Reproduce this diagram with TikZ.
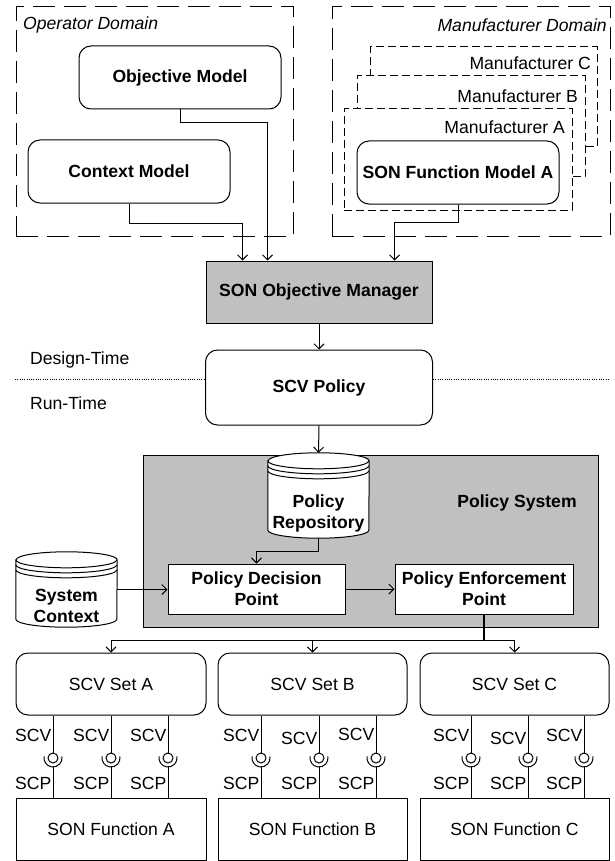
\documentclass[tikz,border=0pt]{standalone}
\usepackage{fontspec}
\setmainfont{Liberation Sans}
\usetikzlibrary{arrows.meta,calc}
\definecolor{sgray}{HTML}{C0C0C0}
\newcommand\drawcylshape[1]{%
  \filldraw[line width=1pt, fill=white] ($(#1.north west)+(0,8)$) -- ($(#1.south west)+(0,-8)$)
    arc[start angle=180,end angle=0,x radius=50.5,y radius=8]
    -- ($(#1.north east)+(0,8)$)
    arc[start angle=0,end angle=-180,x radius=50.5,y radius=8] -- cycle;
  \draw[line width=1pt] ($(#1.north west)+(0,8)$) arc[start angle=180,end angle=0,x radius=50.5,y radius=8];
  \draw[line width=1pt] ($(#1.north west)+(0,13)$) arc[start angle=180,end angle=0,x radius=50.5,y radius=8];
  \draw[line width=1pt] ($(#1.north west)+(0,18)$) arc[start angle=180,end angle=0,x radius=50.5,y radius=8];
}
\begin{document}
\begin{tikzpicture}[x=1pt,y=-1pt,
  every node/.style={font=\fontsize{17.6}{21}\selectfont, inner sep=0pt},
  bf/.style={font=\fontsize{17.6}{21}\selectfont\bfseries},
  itl/.style={font=\fontsize{17.6}{21}\selectfont\itshape},
  line/.style={line width=1pt},
  arr/.style={line width=1pt, -{Straight Barb[length=5pt,width=10pt]}},
  rbox/.style={draw, line width=1pt, rounded corners=12pt, fill=white, align=center},
  sbox/.style={draw, line width=1pt, fill=white, align=center},
  gbox/.style={draw, line width=1pt, fill=sgray, align=center},
  dom/.style={draw, line width=1pt, dash pattern=on 22pt off 9pt},
  man/.style={draw, line width=1pt, fill=white, dash pattern=on 8pt off 4pt},
  ph/.style={minimum width=101pt, draw=none},
]
\useasboundingbox (0,0) rectangle (614,861);

% domains
\node[dom, minimum width=277pt, minimum height=229pt] (opdom) at (154.5,121.5) {};
\node[itl, anchor=west] (oplbl) at (23,25) {Operator Domain};
\node[dom, minimum width=278pt, minimum height=229pt] (mandom) at (471,121.5) {};
\node[itl, anchor=east] (mdlbl) at (607,25) {Manufacturer Domain};

\node[man, minimum width=227pt, minimum height=100pt] (manC) at (483.5,97) {};
\node[anchor=east] (lblC) at (591,63) {Manufacturer C};
\node[man, minimum width=228pt, minimum height=101pt] (manB) at (471,126.5) {};
\node[anchor=east] (lblB) at (578,96) {Manufacturer B};
\node[man, minimum width=228pt, minimum height=101pt] (manA) at (458,159.5) {};
\node[anchor=east] (lblA) at (565,127) {Manufacturer A};

\node[rbox, bf, minimum width=202pt, minimum height=63pt] (sfm) at (458,172.5) {SON Function Model A};
\node[rbox, bf, minimum width=202pt, minimum height=63pt] (obj) at (180,77.5) {Objective Model};
\node[rbox, bf, minimum width=202pt, minimum height=63pt] (ctx) at (129,171.5) {Context Model};

% objective manager
\node[gbox, bf, minimum width=226pt, minimum height=62pt] (som) at (319,292) {SON Objective Manager};
\draw[arr] (ctx.south) -- ++(0,20) -| ([xshift=37pt]som.north west);
\draw[arr] (obj.south) -- ++(0,13) -| ([xshift=62pt]som.north west);
\draw[arr] (sfm.south) -- ++(0,18) -| ([xshift=189pt]som.north west);

% SCV policy and time line
\node[rbox, bf, minimum width=227pt, minimum height=75pt] (scvpol) at (319,387.5) {SCV Policy};
\draw[arr] (som.south) -- (som.south |- scvpol.north);
\coordinate (dl) at (15,379);
\coordinate (dr) at (610,379);
\draw[line width=0.9pt, dash pattern=on 1pt off 1.3pt] (dl) -- (dl -| scvpol.west);
\draw[line width=0.9pt, dash pattern=on 1pt off 1.3pt] (scvpol.east |- dr) -- (dr);
\node[anchor=west] (dt) at (30,360) {Design-Time};
\node[anchor=west] (rt) at (30,403) {Run-Time};

% policy system
\node[gbox, minimum width=455pt, minimum height=172pt] (psys) at (370.5,541) {};
\node[bf] (pslbl) at (517,503) {Policy System};
\node[ph, minimum height=85pt] (repo) at (318.5,495.5) {};
\drawcylshape{repo}
\node[bf, align=center] (repolbl) at (318.5,513) {Policy\\Repository};
\draw[arr] (scvpol.south) -- (repo.north);

\node[sbox, bf, minimum width=177pt, minimum height=50pt] (pdp) at (256.5,589) {Policy Decision\\Point};
\node[sbox, bf, minimum width=178pt, minimum height=50pt] (pep) at (484,589) {Policy Enforcement\\Point};
\draw[arr] (repo.south) -- ++(0,13) -| (pdp.north);
\draw[arr] (pdp.east) -- (pep.west);

\node[ph, minimum height=75pt] (sysc) at (66.5,589.5) {};
\drawcylshape{sysc}
\node[bf, align=center] (sysclbl) at (66.5,606) {System\\Context};
\draw[arr] (sysc.east) -- (sysc.east -| pdp.west);

% SCV sets and functions
\node[rbox, minimum width=190pt, minimum height=62pt] (setA) at (111,684) {SCV Set A};
\node[rbox, minimum width=189pt, minimum height=62pt] (setB) at (312.5,684) {SCV Set B};
\node[rbox, minimum width=189pt, minimum height=62pt] (setC) at (514.5,684) {SCV Set C};
\node[sbox, minimum width=190pt, minimum height=62pt] (fnA) at (111,829) {SON Function A};
\node[sbox, minimum width=189pt, minimum height=62pt] (fnB) at (312.5,829) {SON Function B};
\node[sbox, minimum width=189pt, minimum height=62pt] (fnC) at (514.5,829) {SON Function C};

\coordinate (split) at (484,640);
\draw[line width=1.8pt] (pep.south) -- (split);
\draw[arr] (split) -| (setA.north);
\draw[arr] (split) -| (setB.north);
\draw[arr] (split) -| (setC.north);

\foreach \s/\f/\x/\ly [count=\i] in {setA/fnA/53/735, setA/fnA/111/735, setA/fnA/168/735,
  setB/fnB/261/735, setB/fnB/319/738, setB/fnB/376/734,
  setC/fnC/471/735, setC/fnC/528/738, setC/fnC/584/735}{
  \coordinate (ball\i) at (\x,758);
  \draw[line] (ball\i |- \s.south) -- ($(ball\i)+(0,-5)$);
  \draw[line] (ball\i) circle[radius=5];
  \draw[line] ($(ball\i)+(190:9)$) arc[start angle=190,end angle=-10,radius=9];
  \draw[line] ($(ball\i)+(0,9)$) -- (ball\i |- \f.north);
  \node[anchor=east] (scv\i) at (\x-1.5,\ly) {SCV};
  \node[anchor=east] (scp\i) at (\x-1.5,783) {SCP};
}
\end{tikzpicture}
\end{document}
